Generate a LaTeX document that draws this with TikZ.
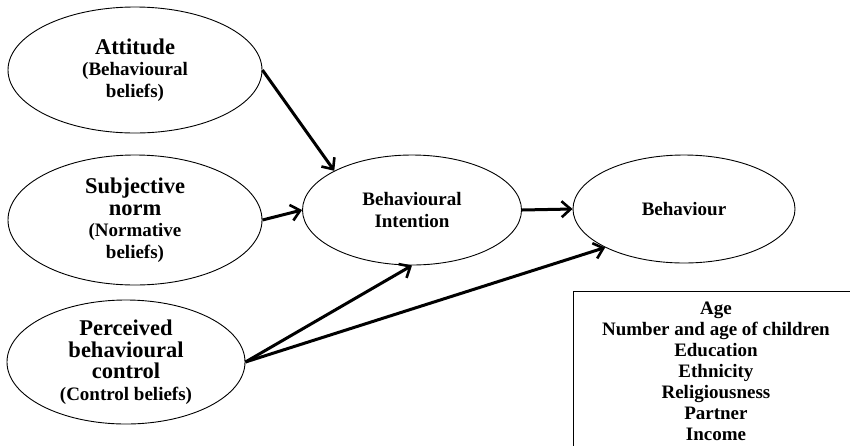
\documentclass[tikz,border=0pt]{standalone}
\usepackage{fontspec}
\setmainfont{Liberation Serif}
\usetikzlibrary{shapes.geometric,arrows.meta}
\newcommand{\biglbl}[1]{{\fontsize{22.5}{25}\selectfont #1}}
\tikzset{
  construct/.style={draw, ellipse, line width=0.9pt, align=center, inner sep=0pt,
    font=\bfseries\fontsize{19}{21.5}\selectfont},
  link/.style={line width=3pt, -{Straight Barb[length=9pt,width=16pt,line width=2.6pt]}},
  factorbox/.style={draw, line width=0.9pt, align=center, inner sep=0pt,
    font=\bfseries\fontsize{19}{21}\selectfont}
}

\begin{document}
\begin{tikzpicture}[x=1pt,y=-1pt]
\useasboundingbox (0,0) rectangle (850,445);

% antecedents
\node[construct, minimum width=254, minimum height=126] (att) at (135,70)
  {\biglbl{Attitude}\\(Behavioural\\beliefs)};
\node[construct, minimum width=254, minimum height=130] (subj) at (135,220)
  {\biglbl{Subjective}\\\biglbl{norm}\\(Normative\\beliefs)};
\node[construct, minimum width=238, minimum height=124] (pbc) at (126,362)
  {\biglbl{Perceived}\\\biglbl{behavioural}\\\biglbl{control}\\(Control beliefs)};

% intention and behaviour
\node[construct, minimum width=219, minimum height=110] (bi) at (412,210)
  {Behavioural\\Intention};
\node[construct, minimum width=222, minimum height=108] (beh) at (684,209)
  {Behaviour};

% background factors
\node[factorbox, minimum width=285, minimum height=160, anchor=north west] (factors) at (573,291)
  {Age\\Number and age of children\\Education\\Ethnicity\\Religiousness\\Partner\\Income};

\draw[link] (att.east) -- (bi.north west);
\draw[link] (subj.east) -- (bi.west);
\draw[link] (pbc.east) -- (bi.south);
\draw[link] (pbc.east) -- (beh.south west);
\draw[link] (bi.east) -- (beh.west);
\end{tikzpicture}
\end{document}
